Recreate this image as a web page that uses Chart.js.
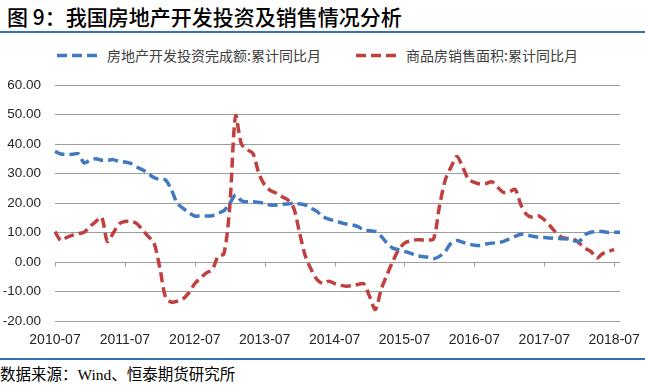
<!DOCTYPE html>
<html>
<head>
<meta charset="utf-8">
<script src="https://cdn.jsdelivr.net/npm/chart.js@4"></script>
<style>
  html, body { margin: 0; padding: 0; background: #fff; }
  body { width: 645px; height: 385px; position: relative; overflow: hidden; }
  #title { position: absolute; left: 7px; top: 5px; font: 500 21px "Noto Sans CJK SC", sans-serif; line-height: 23px; color: #000; white-space: nowrap; }
  .rule { position: absolute; left: 0; width: 645px; height: 2px; background: #3470b2; }
  #legend { position: absolute; top: 46px; left: 0; width: 645px; height: 18px; font: 14px "Noto Sans CJK SC", sans-serif; color: #404040; }
  #legend .item { position: absolute; top: 0; height: 18px; line-height: 18px; white-space: nowrap; }
  #legend svg { position: absolute; top: 7px; }
  #legend span { position: absolute; top: 0; }
  #footer { position: absolute; left: 0; top: 366px; font: 15.5px "Liberation Serif", "Noto Sans CJK SC", serif; line-height: 18px; color: #000; white-space: nowrap; }
  #wrap { position: absolute; left: 0; top: 70px; width: 645px; height: 290px; }
</style>
</head>
<body>
<div id="title">图 9：我国房地产开发投资及销售情况分析</div>
<div class="rule" style="top:31px"></div>
<div id="legend">
  <div class="item" style="left:57px">
    <svg width="42" height="5"><line x1="0" y1="2.5" x2="42" y2="2.5" stroke="#4179bf" stroke-width="3.5" stroke-dasharray="10 5"/></svg>
    <span style="left:50px">房地产开发投资完成额:累计同比月</span>
  </div>
  <div class="item" style="left:356px">
    <svg width="42" height="5"><line x1="0" y1="2.5" x2="42" y2="2.5" stroke="#c0403f" stroke-width="3.5" stroke-dasharray="10 5"/></svg>
    <span style="left:50px">商品房销售面积:累计同比月</span>
  </div>
</div>
<div id="wrap"><canvas id="c" width="645" height="290"></canvas></div>
<div class="rule" style="top:358px"></div>
<div id="footer">数据来源：Wind、恒泰期货研究所</div>
<script>
// categories: monthly 2010-07 .. 2018-08
const months = [];
for (let y = 2010; y <= 2018; y++) {
  for (let m = 1; m <= 12; m++) {
    if ((y === 2010 && m < 7) || (y === 2018 && m > 8)) continue;
    months.push(y + '-' + String(m).padStart(2, '0'));
  }
}
const seriesNames = ['房地产开发投资完成额:累计同比月', '商品房销售面积:累计同比月'];
const investment = [
  37.5, 36.6, 36.5, 36.5, 36.7, 33.6, 34.5, 35.0, 34.5, 34.5, 34.7, 34.0,
  33.9, 33.4, 32.2, 31.3, 30.0, 28.6, 28.0, 27.8, 24.4, 19.9, 18.2, 16.7,
  15.6, 15.6, 15.6, 15.7, 16.5, 17.4, 19.9, 22.7, 20.8, 20.4, 20.4, 20.2,
  19.9, 19.3, 19.3, 19.6, 19.7, 19.9, 19.7, 19.3, 18.2, 17.1, 15.4, 14.5,
  14.0, 13.4, 12.9, 12.6, 12.0, 10.9, 10.6, 10.3, 8.7, 6.4, 4.7, 4.2,
  3.6, 3.0, 2.2, 1.9, 1.6, 1.1, 1.9, 3.6, 6.4, 7.3, 6.7, 6.1,
  5.7, 5.6, 6.1, 6.4, 6.6, 7.0, 7.8, 8.7, 9.4, 9.2, 8.7, 8.4,
  8.3, 8.1, 8.1, 7.9, 7.8, 7.3, 7.0, 9.2, 10.1, 10.3, 10.3, 10.0,
  10.1, 10.1
];
const salesArea = [
  10.3, 7.3, 8.3, 9.1, 9.6, 10.1, 12.0, 13.7, 15.2, 7.0, 9.8, 12.9,
  13.7, 13.7, 13.1, 10.9, 8.7, 6.4, -2.0, -12.1, -13.6, -13.3, -12.5, -10.4,
  -7.3, -5.4, -3.7, -2.6, 1.9, 2.8, 18.8, 49.5, 40.0, 38.1, 36.7, 30.0,
  26.1, 24.2, 23.3, 22.1, 21.0, 18.2, 9.8, 1.9, -2.6, -6.0, -7.3, -6.5,
  -7.3, -7.9, -8.2, -8.0, -7.6, -7.4, -11.6, -16.1, -9.3, -4.3, 0.2, 4.2,
  6.4, 7.2, 7.5, 7.5, 7.5, 7.8, 18.8, 27.8, 32.2, 35.8, 32.2, 28.0,
  27.0, 26.4, 26.6, 27.2, 25.3, 23.6, 23.8, 24.6, 19.3, 16.0, 15.2, 15.7,
  14.3, 12.2, 10.0, 8.4, 8.0, 7.8, 6.4, 4.7, 3.6, 1.3, 2.8, 3.6,
  4.2, null
];
const yTicks = [-20, -10, 0, 10, 20, 30, 40, 50, 60];

const axisTicks = {
  id: 'axisTicks',
  beforeDatasetsDraw(chart) {
    const xs = chart.scales.x, ys = chart.scales.y, ctx = chart.ctx;
    const y0 = Math.round(ys.getPixelForValue(0)) + 0.5;
    ctx.save();
    ctx.strokeStyle = '#9d9d9d';
    ctx.lineWidth = 1;
    ctx.beginPath();
    months.forEach((lab, i) => {
      if (lab.endsWith('-07')) {
        const x = Math.round(xs.getPixelForValue(i)) + 0.5;
        ctx.moveTo(x, y0);
        ctx.lineTo(x, y0 + 4);
      }
    });
    ctx.stroke();
    ctx.restore();
  }
};

new Chart(document.getElementById('c'), {
  type: 'line',
  data: {
    labels: months,
    datasets: [
      { label: seriesNames[0], data: investment, borderColor: '#4179bf', backgroundColor: '#4179bf',
        borderWidth: 3.5, borderDash: [10, 5], pointRadius: 0, tension: 0.3, fill: false },
      { label: seriesNames[1], data: salesArea, borderColor: '#c0403f', backgroundColor: '#c0403f',
        borderWidth: 3.5, borderDash: [10, 5], pointRadius: 0, tension: 0.3, fill: false, spanGaps: false }
    ]
  },
  options: {
    responsive: false,
    animation: false,
    layout: { padding: { top: 15, right: 25, left: 0, bottom: 0 } },
    plugins: { legend: { display: false }, tooltip: { enabled: false }, title: { display: false } },
    scales: {
      x: {
        type: 'category',
        offset: false,
        border: { display: false },
        grid: { display: false, drawTicks: false },
        ticks: {
          autoSkip: false, maxRotation: 0, minRotation: 0, padding: 11,
          color: '#262626', font: { family: 'Liberation Sans', size: 14 },
          callback: function(v, i) { const l = months[i]; return l.endsWith('-07') ? l : ''; }
        },
        afterFit(s) { s.height = 39; }
      },
      y: {
        min: yTicks[0], max: yTicks[yTicks.length - 1],
        border: { display: false },
        grid: { color: '#9d9d9d', lineWidth: 1, drawTicks: false },
        ticks: {
          stepSize: 10, padding: 14, color: '#262626',
          font: { family: 'Liberation Sans', size: 13.5 },
          callback: v => v.toFixed(2)
        },
        afterBuildTicks(s) { s.ticks = yTicks.map(v => ({ value: v })); },
        afterFit(s) { s.width = 55; s.paddingTop = 0; s.paddingBottom = 0; }
      }
    }
  },
  plugins: [axisTicks]
});
</script>
</body>
</html>
